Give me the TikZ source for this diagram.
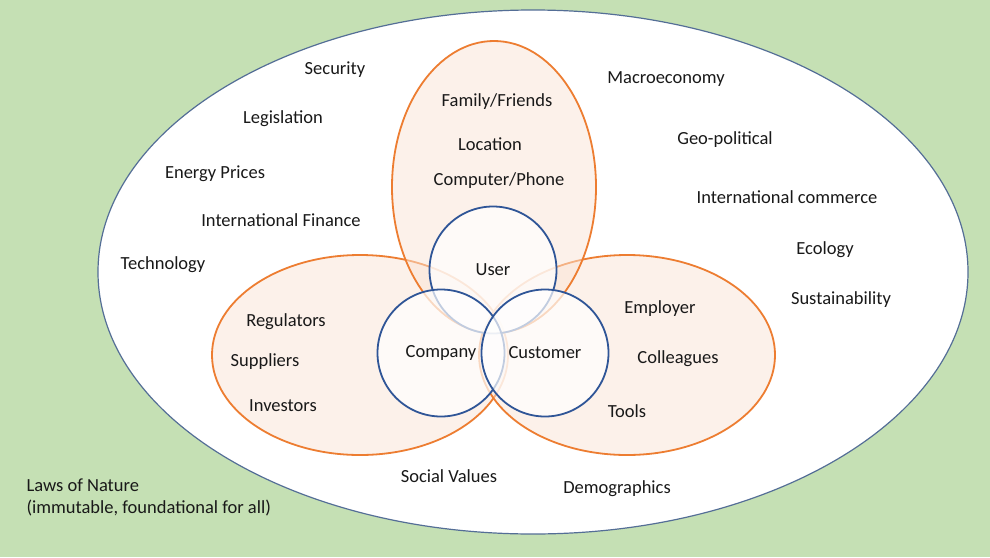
\documentclass[tikz,border=0pt]{standalone}
\usepackage{fontspec}
\setmainfont{Carlito}
\definecolor{natgreen}{RGB}{197,224,180}
\definecolor{ringblue}{RGB}{47,85,151}
\definecolor{rimorange}{RGB}{237,125,49}
\definecolor{paleorange}{RGB}{251,229,214}
\definecolor{outerline}{RGB}{84,110,150}
\definecolor{txt}{RGB}{25,25,25}

\begin{document}
\begin{tikzpicture}[x=1pt,y=-1pt,
                    every node/.style={text=txt,font=\fontsize{18.5}{22}\selectfont},
                    world/.style={draw=outerline,fill=white,line width=1.2pt},
                    sphere/.style={draw=rimorange,line width=1.8pt,fill=paleorange,fill opacity=0.5},
                    role/.style={circle,draw=ringblue,line width=1.8pt,fill=white,
                                 fill opacity=0.7,text opacity=1,minimum size=127pt,inner sep=0pt}]
  % background and outer world
  \fill[natgreen] (0,0) rectangle (990,557);
  \draw[world] (533,272) ellipse [x radius=435pt, y radius=262pt];

  % the three spheres
  \draw[sphere] (360,355) ellipse [x radius=148pt, y radius=100pt];
  \draw[sphere] (627,355) ellipse [x radius=148pt, y radius=100pt];
  \draw[sphere] (494,187) ellipse [x radius=102pt, y radius=146pt];

  \node[role] (user)     at (493,270) {User};
  \node[role] (company)  at (441,353) {Company};
  \node[role] (customer) at (545,353) {Customer};

  % user sphere
  \node (family)   at (497,102) {Family/Friends};
  \node (location) at (490,144) {Location};
  \node (device)   at (499,181) {Computer/Phone};

  % company sphere
  \node (regulators) at (286,322) {Regulators};
  \node (suppliers)  at (265,362) {Suppliers};
  \node (investors)  at (283,406) {Investors};

  % customer sphere
  \node (employer)   at (660,309) {Employer};
  \node (colleagues) at (678,359) {Colleagues};
  \node (tools)      at (627,411) {Tools};

  % outer world
  \node (security)    at (335,70)  {Security};
  \node (legislation) at (283,119) {Legislation};
  \node (energy)      at (215,174) {Energy Prices};
  \node (finance)     at (281,220) {International Finance};
  \node (technology)  at (163,265) {Technology};
  \node (macro)       at (666,79)  {Macroeconomy};
  \node (geo)         at (725,140) {Geo-political};
  \node (commerce)    at (787,197) {International commerce};
  \node (ecology)     at (825,250) {Ecology};
  \node (sustain)     at (841,300) {Sustainability};
  \node (social)      at (449,476) {Social Values};
  \node (demo)        at (617,489) {Demographics};

  \node[anchor=west,align=left] (nature) at (23,497)
    {Laws of Nature\\(immutable, foundational for all)};
\end{tikzpicture}
\end{document}
